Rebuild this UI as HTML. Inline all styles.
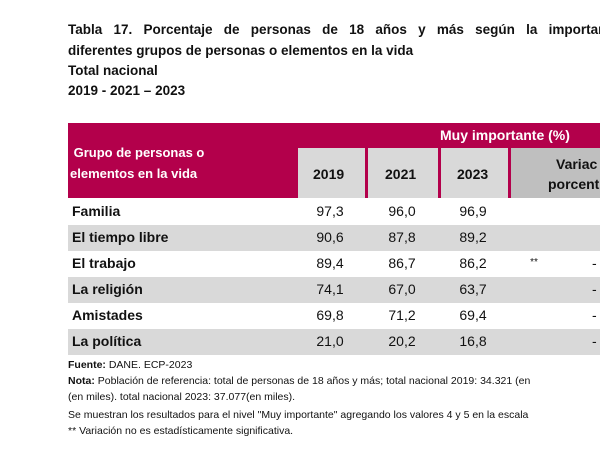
<!DOCTYPE html>
<html><head><meta charset="utf-8"><style>
body{margin:0;width:600px;height:455px;background:#fff;overflow:hidden;position:relative;font-family:"Liberation Sans",sans-serif;color:#111}
.a{position:absolute;white-space:nowrap}
.t{font-weight:bold;font-size:13.5px;left:68px}
.row{position:absolute;left:68px;width:532px;height:26px;overflow:hidden}
.g{background:#d9d9d9}
.lab{position:absolute;left:4px;top:4px;font-weight:bold;font-size:14px}
.v{position:absolute;top:4px;font-size:14px;width:60px;text-align:center}
.d{position:absolute;top:4px;font-size:14px;left:524px}
.f{font-size:10.5px;left:68px}
</style></head><body>
<div class="a t" style="top:22px;word-spacing:7.5px">Tabla 17. Porcentaje de personas de 18 años y más según la importancia</div>
<div class="a t" style="top:43px">diferentes grupos de personas o elementos en la vida</div>
<div class="a t" style="top:63px">Total nacional</div>
<div class="a t" style="top:83px">2019 - 2021 – 2023</div>

<div style="position:absolute;left:68px;top:123px;width:532px;height:75px;background:#b3004b"></div>
<div class="a" style="left:440px;top:127px;color:#fff;font-weight:bold;font-size:14px">Muy importante (%)</div>
<div class="a" style="left:70px;top:142px;color:#fff;font-weight:bold;font-size:13px;line-height:21px">&nbsp;Grupo de personas o<br>elementos en la vida</div>
<div style="position:absolute;left:298px;top:148px;width:67px;height:50px;background:#d9d9d9"></div>
<div style="position:absolute;left:368px;top:148px;width:70px;height:50px;background:#d9d9d9"></div>
<div style="position:absolute;left:441px;top:148px;width:67px;height:50px;background:#d9d9d9"></div>
<div style="position:absolute;left:511px;top:148px;width:89px;height:50px;background:#bfbfbf"></div>
<div class="a" style="left:313px;top:166px;font-weight:bold;font-size:14px">2019</div>
<div class="a" style="left:385px;top:166px;font-weight:bold;font-size:14px">2021</div>
<div class="a" style="left:457px;top:166px;font-weight:bold;font-size:14px">2023</div>
<div class="a" style="left:556px;top:156px;font-weight:bold;font-size:14px">Variac</div>
<div class="a" style="left:548px;top:176px;font-weight:bold;font-size:14px">porcent</div>

<div class="row" style="top:199px"><span class="lab">Familia</span><span class="v" style="left:232px">97,3</span><span class="v" style="left:304px">96,0</span><span class="v" style="left:375px">96,9</span></div>
<div class="row g" style="top:225px"><span class="lab">El tiempo libre</span><span class="v" style="left:232px">90,6</span><span class="v" style="left:304px">87,8</span><span class="v" style="left:375px">89,2</span></div>
<div class="row" style="top:251px"><span class="lab">El trabajo</span><span class="v" style="left:232px">89,4</span><span class="v" style="left:304px">86,7</span><span class="v" style="left:375px">86,2</span><span class="v" style="left:436px;font-size:10px;top:6px">**</span><span class="d">-</span></div>
<div class="row g" style="top:277px"><span class="lab">La religión</span><span class="v" style="left:232px">74,1</span><span class="v" style="left:304px">67,0</span><span class="v" style="left:375px">63,7</span><span class="d">-</span></div>
<div class="row" style="top:303px"><span class="lab">Amistades</span><span class="v" style="left:232px">69,8</span><span class="v" style="left:304px">71,2</span><span class="v" style="left:375px">69,4</span><span class="d">-</span></div>
<div class="row g" style="top:329px"><span class="lab">La política</span><span class="v" style="left:232px">21,0</span><span class="v" style="left:304px">20,2</span><span class="v" style="left:375px">16,8</span><span class="d">-</span></div>

<div class="a f" style="top:359px"><b>Fuente:</b> DANE. ECP-2023</div>
<div class="a f" style="top:375px"><b>Nota:</b> Población de referencia: total de personas de 18 años y más; total nacional 2019: 34.321 (en</div>
<div class="a f" style="top:391px">(en miles). total nacional 2023: 37.077(en miles).</div>
<div class="a f" style="top:409px">Se muestran los resultados para el nivel "Muy importante" agregando los valores 4 y 5 en la escala</div>
<div class="a f" style="top:425px">** Variación no es estadísticamente significativa.</div>
</body></html>
